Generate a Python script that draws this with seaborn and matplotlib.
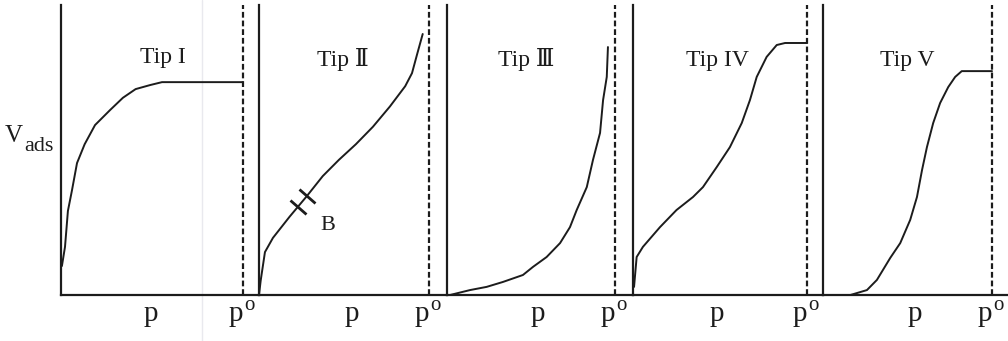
import numpy as np
import matplotlib
matplotlib.use("Agg")
import matplotlib.pyplot as plt
from matplotlib.lines import Line2D
from matplotlib.markers import MarkerStyle
from matplotlib.transforms import Affine2D
import seaborn as sns

# Relative pressure (p/p°, saturation at 1.0) and adsorbed volume (axis top = 1.0)
p_I = [0.005, 0.022, 0.038, 0.06, 0.088, 0.13, 0.187, 0.27, 0.34, 0.41, 0.49, 0.555, 1.0]
v_I = [0.10, 0.166, 0.29, 0.36, 0.455, 0.52, 0.586, 0.638, 0.68, 0.71, 0.724, 0.734, 0.734]

p_II = [0.0, 0.01, 0.035, 0.082, 0.18, 0.28, 0.375, 0.47, 0.57, 0.67, 0.77, 0.86, 0.90, 0.93, 0.963]
v_II = [0.0, 0.05, 0.148, 0.197, 0.27, 0.34, 0.41, 0.466, 0.52, 0.58, 0.65, 0.72, 0.765, 0.83, 0.90]

p_III = [0.018, 0.137, 0.236, 0.333, 0.452, 0.512, 0.593, 0.673, 0.732, 0.772, 0.832, 0.869, 0.911, 0.929, 0.951, 0.958]
v_III = [0.0, 0.017, 0.028, 0.045, 0.069, 0.097, 0.131, 0.179, 0.234, 0.293, 0.372, 0.466, 0.559, 0.672, 0.752, 0.855]

p_IV = [0.006, 0.021, 0.057, 0.155, 0.25, 0.345, 0.402, 0.481, 0.557, 0.625, 0.672, 0.711, 0.768, 0.826, 0.874, 1.0]
v_IV = [0.028, 0.131, 0.166, 0.234, 0.293, 0.338, 0.372, 0.441, 0.51, 0.593, 0.672, 0.752, 0.821, 0.862, 0.869, 0.869]

p_V = [0.02, 0.162, 0.26, 0.319, 0.398, 0.457, 0.516, 0.556, 0.586, 0.615, 0.652, 0.693, 0.741, 0.782, 0.821, 1.0]
v_V = [0.0, 0.0, 0.017, 0.052, 0.128, 0.179, 0.259, 0.338, 0.431, 0.51, 0.593, 0.662, 0.717, 0.752, 0.772, 0.772]

titles = ["Tip I", "Tip Ⅱ", "Tip Ⅲ", "Tip IV", "Tip V"]
pressures = [p_I, p_II, p_III, p_IV, p_V]
volumes = [v_I, v_II, v_III, v_IV, v_V]

# Point B (monolayer completion) on the type II isotherm
b_marks = [0.229, 0.282]

sns.set_style("white")
plt.rcParams["font.family"] = ["Liberation Serif", "DejaVu Serif", "DejaVu Sans"]

INK = "#1c1c1c"
W, H = 1008, 341
axis_px = [61, 259, 447, 633, 823]
dash_px = [243, 429, 615, 807, 992]
base_px, top_px = 295, 5

# label placement inside each panel (fractions of p/p°)
title_x = [0.56, 0.494, 0.47, 0.483, 0.50]
title_y = [0.80, 0.79, 0.79, 0.79, 0.79]
plabel_x = [0.495, 0.547, 0.54, 0.483, 0.546]

fig = plt.figure(figsize=(W / 100, H / 100), dpi=100)
fig.patch.set_facecolor("white")

# faint crease across the page
fig.add_artist(Line2D([202 / W, 202 / W], [0, 1], transform=fig.transFigure,
                      color="#e9e9ee", lw=1.0, zorder=0))

for i in range(5):
    left = axis_px[i]
    right = axis_px[i + 1] if i < 4 else W
    ax = fig.add_axes([left / W, (H - base_px) / H, (right - left) / W,
                       (base_px - top_px) / H])
    ax.patch.set_alpha(0)
    unit = dash_px[i] - left
    ax.set_xlim(0, (right - left) / unit)
    ax.set_ylim(0, 1)

    sns.lineplot(x=pressures[i], y=volumes[i], ax=ax, color=INK, lw=1.4,
                 sort=False, estimator=None)
    ax.axvline(1.0, color=INK, lw=1.6, ls=(0, (2.6, 1.3)))

    for side in ["top", "right"]:
        ax.spines[side].set_visible(False)
    for side in ["left", "bottom"]:
        ax.spines[side].set_color(INK)
        ax.spines[side].set_linewidth(1.6)
    ax.set_xticks([])
    ax.set_yticks([])
    ax.set_xlabel("")
    ax.set_ylabel("")

    ax.text(title_x[i], title_y[i], titles[i], ha="center", va="baseline",
            fontsize=17, color=INK)
    ax.text(plabel_x[i], -0.09, "p", ha="center", va="baseline",
            fontsize=21, color=INK, clip_on=False)
    ax.text(1.0, -0.09, "p", ha="right", va="baseline", fontsize=21,
            color=INK, clip_on=False)
    ax.text(1.005, -0.05, "o", ha="left", va="baseline", fontsize=15,
            color=INK, clip_on=False)

    if i == 1:
        by = np.interp(b_marks, p_II, v_II)
        tick = MarkerStyle("|", transform=Affine2D().rotate_deg(50))
        ax.plot(b_marks, by, ls="none", marker=tick, markersize=15,
                markeredgewidth=2.0, color=INK)
        ax.text(0.406, 0.238, "B", ha="center", va="center", fontsize=16,
                color=INK)

fig.text(5 / W, 1 - 142 / H, "V", ha="left", va="baseline", fontsize=18,
         color=INK)
fig.text(24 / W, 1 - 151 / H, "ads", ha="left", va="baseline", fontsize=16,
         color=INK)

fig.savefig("out.png", dpi=100, facecolor="white")
